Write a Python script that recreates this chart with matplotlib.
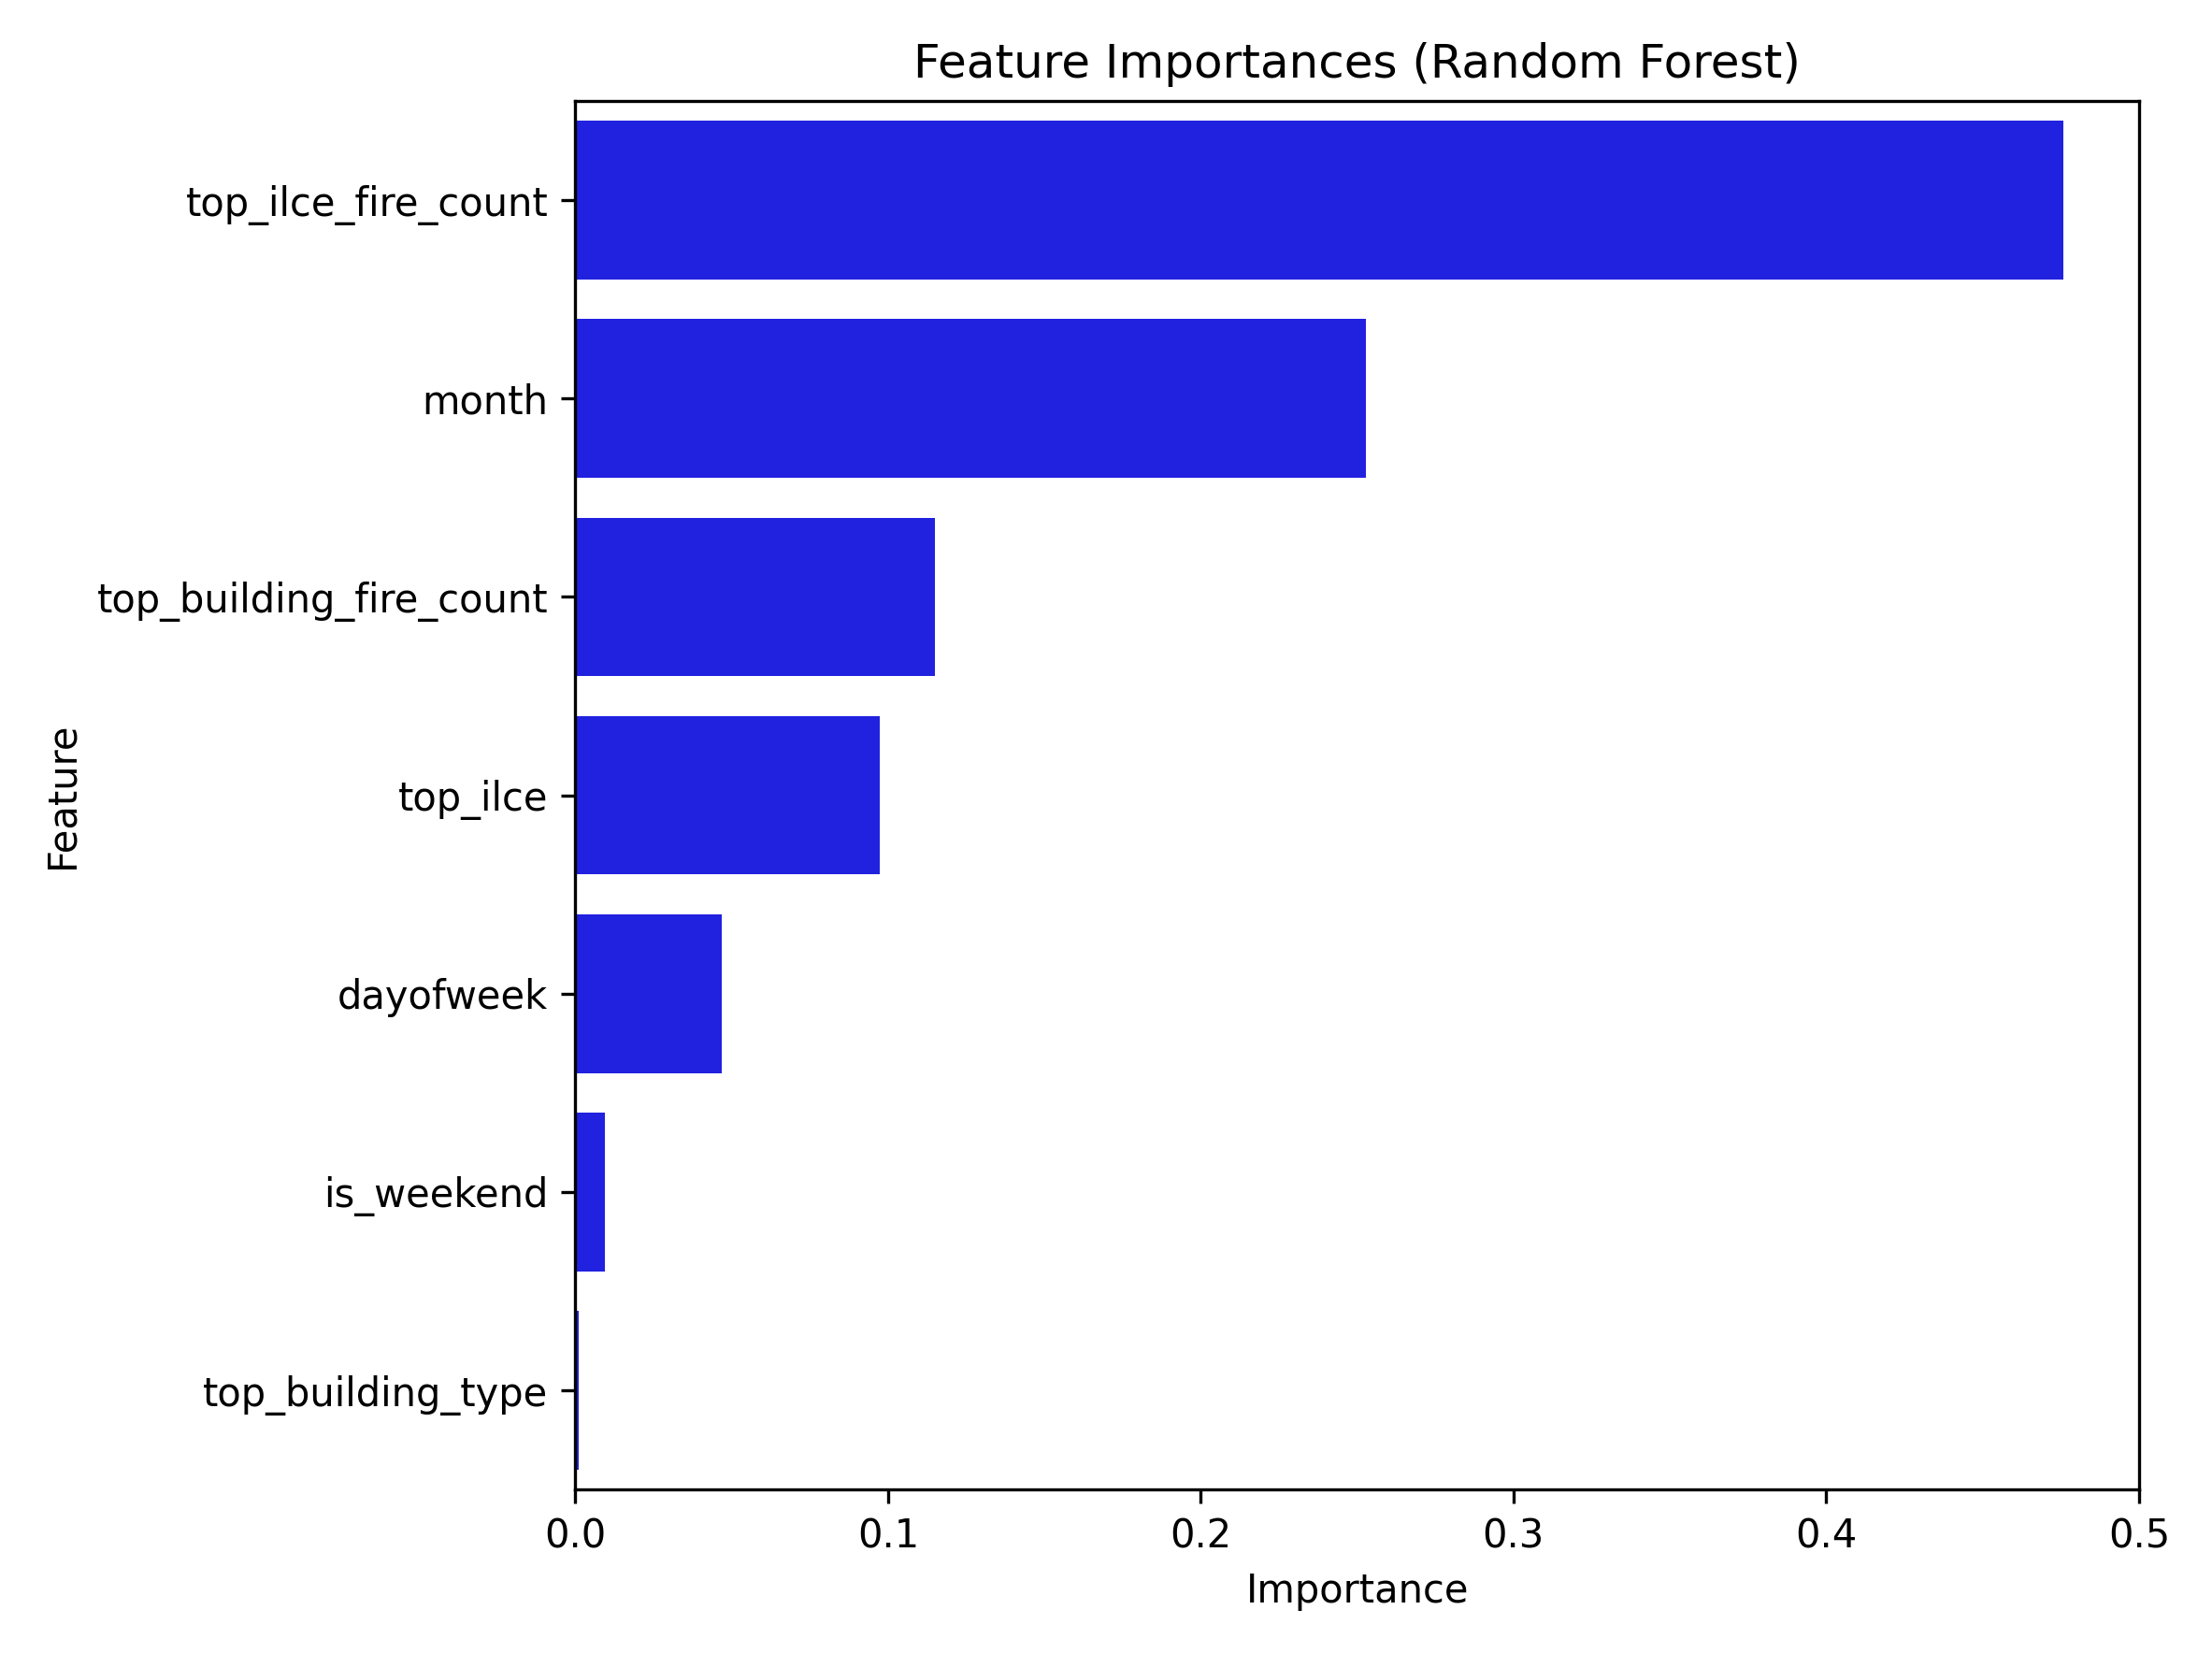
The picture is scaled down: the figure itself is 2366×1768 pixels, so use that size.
import matplotlib.pyplot as plt

features = ["top_ilce_fire_count", "month", "top_building_fire_count", "top_ilce",
            "dayofweek", "is_weekend", "top_building_type"]
importances = [0.4757, 0.2527, 0.1150, 0.0973, 0.0469, 0.0093, 0.0010]

fig, ax = plt.subplots(figsize=(2366 / 300, 1768 / 300), dpi=300)
ypos = range(len(features))
ax.barh(ypos, importances, height=0.8, color="#2121e0")
ax.set_yticks(list(ypos))
ax.set_yticklabels(features)
ax.set_ylim(len(features) - 0.5, -0.5)
ax.set_xlim(0, 0.5)
ax.set_xlabel("Importance")
ax.set_ylabel("Feature")
ax.set_title("Feature Importances (Random Forest)")
plt.tight_layout()
plt.savefig("out.png", dpi=300)
